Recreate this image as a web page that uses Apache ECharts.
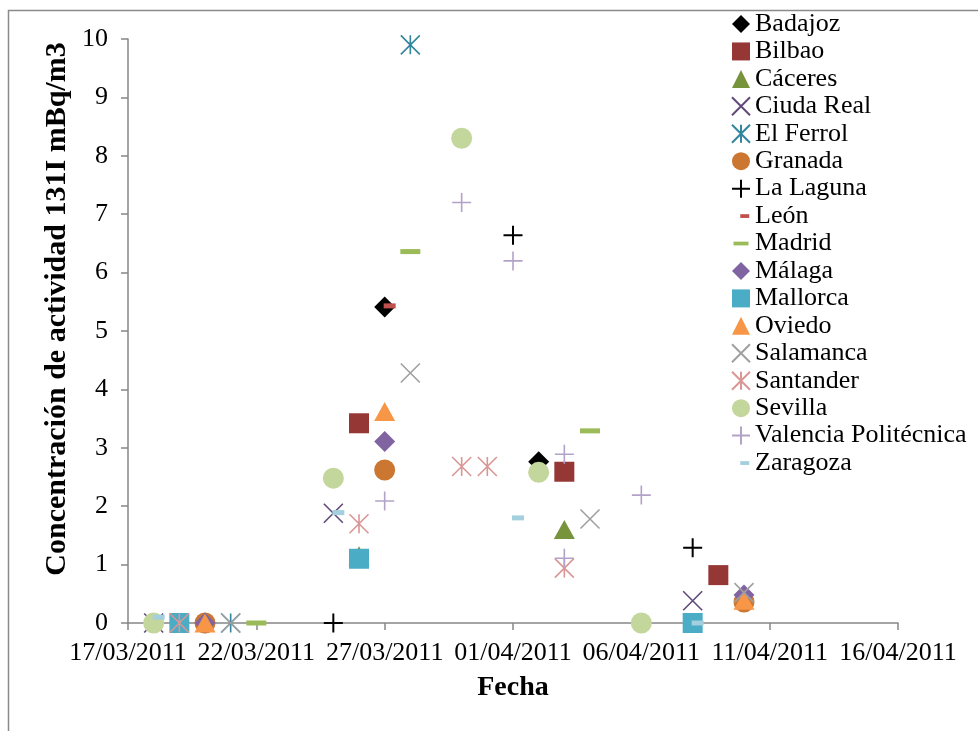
<!DOCTYPE html>
<html>
<head>
<meta charset="utf-8">
<script src="https://cdn.jsdelivr.net/npm/echarts@6/dist/echarts.min.js"></script>
<style>html,body{margin:0;padding:0;background:#fff;}#c{width:978px;height:731px;}</style>
</head>
<body>
<div id="c"></div>
<script>
// ---- data (date, value) ----
const startDate = '2011-03-17';
const xTickStepDays = 5;
const yTicks = [0,1,2,3,4,5,6,7,8,9,10];
const seriesNames = ['Badajoz','Bilbao','Cáceres','Ciuda Real','El Ferrol','Granada','La Laguna','León','Madrid','Málaga','Mallorca','Oviedo','Salamanca','Santander','Sevilla','Valencia Politécnica','Zaragoza'];

const badajoz = [['2011-03-27',5.41],['2011-04-02',2.76]];
const bilbao = [['2011-03-26',3.42],['2011-04-03',2.59],['2011-04-09',0.82]];
const caceres = [['2011-03-26',1.15],['2011-04-03',1.60]];
const ciudaReal = [['2011-03-18',0],['2011-03-25',1.88],['2011-04-08',0.38]];
const elFerrol = [['2011-03-21',0],['2011-03-28',9.90]];
const granada = [['2011-03-20',0],['2011-03-27',2.62],['2011-04-10',0.36]];
const laLaguna = [['2011-03-25',0],['2011-04-01',6.64],['2011-04-08',1.29]];
const leon = [['2011-03-27',5.43]];
const madrid = [['2011-03-22',0],['2011-03-28',6.36],['2011-04-04',3.29]];
const malaga = [['2011-03-20',0],['2011-03-27',3.11],['2011-04-10',0.48]];
const mallorca = [['2011-03-19',0],['2011-03-26',1.10],['2011-04-08',0]];
const oviedo = [['2011-03-20',0],['2011-03-27',3.62],['2011-04-10',0.39]];
const salamanca = [['2011-03-21',0],['2011-03-28',4.28],['2011-04-04',1.78],['2011-04-10',0.52]];
const santander = [['2011-03-19',0],['2011-03-26',1.70],['2011-03-30',2.68],['2011-03-31',2.68],['2011-04-03',0.94]];
const sevilla = [['2011-03-18',0],['2011-03-25',2.48],['2011-03-30',8.30],['2011-04-02',2.58],['2011-04-06',0]];
const valencia = [['2011-03-27',2.09],['2011-03-30',7.20],['2011-04-01',6.20],['2011-04-03',2.89],['2011-04-03',1.11],['2011-04-06',2.19]];
const zaragoza = [['2011-03-18',0.10],['2011-03-25',1.89],['2011-04-01',1.80],['2011-04-08',0]];

const allData = [badajoz,bilbao,caceres,ciudaReal,elFerrol,granada,laLaguna,leon,madrid,malaga,mallorca,oviedo,salamanca,santander,sevilla,valencia,zaragoza];

// ---- styles ----
const P_X = 'path://M-10,-10 L10,10 M10,-10 L-10,10';
const P_PLUS = 'path://M0,-10 L0,10 M-10,0 L10,0';
const P_AST = 'path://M-10,-10 L10,10 M10,-10 L-10,10 M0,-10 L0,10';
const P_DASH_LONG = 'path://M-12,-12 M12,12 M-10,-2.5 L10,-2.5 L10,2.5 L-10,2.5 Z';
const P_DASH_SHORT = 'path://M-12,-12 M12,12 M-1,-2.5 L11,-2.5 L11,2.5 L-1,2.5 Z';

const styles = [
  {symbol:'diamond', size:21, fill:'#000000'},
  {symbol:'rect', size:20, fill:'#953735'},
  {symbol:'triangle', size:[21,19], fill:'#77933C'},
  {symbol:P_X, size:19, stroke:'#5F497A', lw:1.6},
  {symbol:P_AST, size:19, stroke:'#31859C', lw:1.6},
  {symbol:'circle', size:21, fill:'#CB7731'},
  {symbol:P_PLUS, size:19, stroke:'#000000', lw:2},
  {symbol:P_DASH_SHORT, size:24, fill:'#C0504D'},
  {symbol:P_DASH_LONG, size:24, fill:'#9BBB59'},
  {symbol:'diamond', size:21, fill:'#8064A2'},
  {symbol:'rect', size:20, fill:'#4BACC6'},
  {symbol:'triangle', size:[21,19], fill:'#F79646'},
  {symbol:P_X, size:19, stroke:'#A0A0A0', lw:1.6},
  {symbol:P_AST, size:19, stroke:'#D99694', lw:1.6},
  {symbol:'circle', size:21, fill:'#C3D69B'},
  {symbol:P_PLUS, size:19, stroke:'#B3A2C7', lw:1.6},
  {symbol:P_DASH_SHORT, size:24, fill:'#A3CFDE'}
];

const DAY = 86400000;
const t0 = Date.parse(startDate);
function dayOffset(d){ return (Date.parse(d) - t0) / DAY; }
function fmtDate(v){
  const d = new Date(t0 + v*DAY);
  const dd = String(d.getUTCDate()).padStart(2,'0');
  const mm = String(d.getUTCMonth()+1).padStart(2,'0');
  return dd + '/' + mm + '/' + d.getUTCFullYear();
}

const FONT = '"Liberation Serif", "Times New Roman", serif';
const AXIS_COLOR = '#868686';

const series = seriesNames.map((name, i) => {
  const s = styles[i];
  const itemStyle = s.stroke
    ? {color:'rgba(0,0,0,0)', borderColor:s.stroke, borderWidth:s.lw, opacity:1}
    : {color:s.fill, opacity:1};
  return {
    name: name,
    type: 'scatter',
    symbol: s.symbol,
    symbolSize: s.size,
    itemStyle: itemStyle,
    emphasis: {disabled:true},
    data: allData[i].map(p => [dayOffset(p[0]), p[1]])
  };
});

const chart = echarts.init(document.getElementById('c'), null, {renderer:'canvas'});
chart.setOption({
  animation: false,
  backgroundColor: '#ffffff',
  grid: {left:128, right:80, top:39, bottom:108, containLabel:false},
  xAxis: {
    type:'value', min:0, max:30, interval:xTickStepDays,
    axisLine:{show:true, onZero:false, lineStyle:{color:AXIS_COLOR, width:1.5}},
    axisTick:{show:true, length:7, lineStyle:{color:AXIS_COLOR, width:1.5}},
    splitLine:{show:false},
    axisLabel:{formatter:fmtDate, fontFamily:FONT, fontSize:26, color:'#000', margin:17}
  },
  yAxis: {
    type:'value', min:yTicks[0], max:yTicks[yTicks.length-1], interval:1,
    axisLine:{show:true, lineStyle:{color:AXIS_COLOR, width:1.5}},
    axisTick:{show:true, length:7, lineStyle:{color:AXIS_COLOR, width:1.5}},
    splitLine:{show:false},
    axisLabel:{fontFamily:FONT, fontSize:26, color:'#000', margin:20}
  },
  legend: {
    orient:'vertical', left:731, top:11, padding:0,
    itemWidth:18, itemHeight:18, itemGap:1.44,
    textStyle:{fontFamily:FONT, fontSize:26, lineHeight:26, color:'#000', padding:[0,0,0,0]},
    selectedMode:false,
    data: seriesNames
  },
  graphic: [
    {type:'rect', silent:true, z:-10, shape:{x:8.5, y:10.5, width:1100, height:1100},
     style:{fill:'none', stroke:'#8a8a8a', lineWidth:1.5}},
    {type:'text', x:57, y:309, rotation:Math.PI/2,
     style:{text:'Concentración de actividad 131I mBq/m3', x:0, y:0, align:'center', verticalAlign:'middle',
            font:'bold 30px ' + FONT, fill:'#000'}},
    {type:'text', x:513, y:688,
     style:{text:'Fecha', x:0, y:0, align:'center', verticalAlign:'middle',
            font:'bold 28px ' + FONT, fill:'#000'}}
  ],
  series: series
});
</script>
</body>
</html>
